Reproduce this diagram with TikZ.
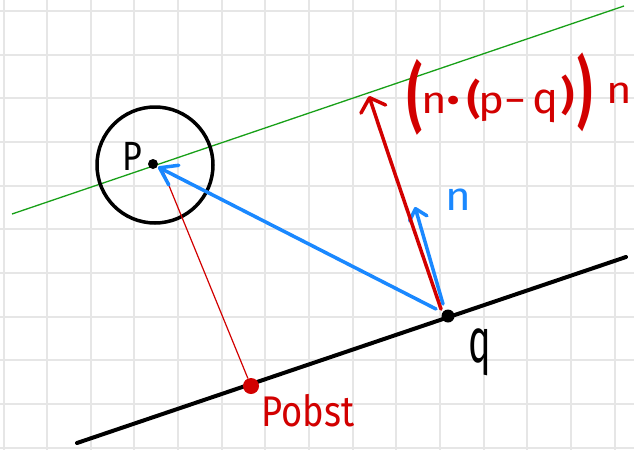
\documentclass[tikz,border=0pt]{standalone}
\usepackage{fontspec}
\setmainfont{Fira Sans}
\usetikzlibrary{arrows.meta}
\definecolor{inkred}{RGB}{210,0,0}
\definecolor{inkblue}{RGB}{26,136,255}
\definecolor{inkgreen}{RGB}{24,160,24}
\definecolor{gridgray}{RGB}{230,230,230}
\tikzset{
  gridline/.style={gridgray, line width=2pt},
  dot/.style={circle, fill=black, inner sep=0pt},
  reddot/.style={circle, fill=inkred, inner sep=0pt},
  barb/.style 2 args={-{Straight Barb[length=#1, width=#2, round]}},
  thickink/.style={line width=3.5pt, line cap=round, line join=round},
  hand/.style={inner sep=0pt},
  fglyph/.style={inner sep=0pt, text=inkred, anchor=base},
  fparen/.style={inner sep=0pt, text=inkred, anchor=south, font=\bfseries}
}
\newcommand{\fsz}[1]{\fontsize{#1}{#1}\selectfont}
\newcommand{\fch}[1]{\scalebox{1.15}[1]{\fsz{38}#1}}
\begin{document}
\begin{tikzpicture}[x=1pt, y=-1pt]
\useasboundingbox (0,0) rectangle (634,450);
\fill[white] (0,0) rectangle (634,450);
\foreach \k in {0,...,14} \draw[gridline] ({3.5+43.65*\k},0) -- ({3.5+43.65*\k},450);
\foreach \k in {0,...,10} \draw[gridline] (0,{11+43.65*\k}) -- (634,{11+43.65*\k});

\coordinate (gL) at (12,214);
\coordinate (gR) at (624,6);
\coordinate (bL) at (77,443);
\coordinate (bR) at (626,257);
\coordinate (qa) at (436,309);
\coordinate (qr) at (441,309);
\coordinate (qn) at (443,304);
\coordinate (Rtip) at (369,96);
\coordinate (ntip) at (415,207);
\coordinate (Ptip) at (158,167);
\coordinate (Pr) at (163,171);

\draw[inkgreen, line width=1.3pt] (gL) -- (gR);
\draw[black, line width=4pt, line cap=round] (bL) -- (bR);
\node[circle, draw=black, line width=3.5pt, minimum size=116pt, inner sep=0pt] (C) at (155,165) {};
\node[dot, minimum size=10pt] (P) at (153,164) {};
\node[dot, minimum size=13pt] (q) at (448,316) {};
\node[reddot, minimum size=16pt] (Pobst) at (251,386) {};
\draw[inkred, line width=1.2pt] (Pr) -- (Pobst);

\draw[inkblue, thickink, barb={16pt}{22pt}] (qa) -- (Ptip);
\draw[inkblue, thickink, barb={10pt}{18pt}] (qn) -- (ntip);
\draw[inkred, thickink, barb={12pt}{26pt}] (qr) .. controls (425,262) and (390,160) .. (Rtip);

\node[hand, text=black] (Plbl) at (132,156) {\scalebox{1}[1.2]{\fsz{34}P}};
\node[hand, text=inkblue] (nlbl) at (458,200) {\scalebox{1.1}[1]{\fsz{40}n}};
\node[hand, text=black] (qlbl) at (480,352) {\scalebox{1}[1.65]{\fsz{38}q}};
\node[hand, text=inkred] (Pobstlbl) at (308,411) {\scalebox{1.1}[1.3]{\fsz{33}Pobst}};

% formula (n•(p−q)) n
\node[fparen] (fo1) at (415,136) {\resizebox*{15pt}{76pt}{(}};
\node[fglyph] (fn1) at (434,113) {\fch{n}};
\node[fglyph] (fdot) at (454,113) {\fch{•}};
\node[fparen] (fi1) at (473.5,120) {\resizebox*{13pt}{41pt}{(}};
\node[fglyph] (fp) at (491,113) {\fch{p}};
\node[fglyph] (fmin) at (515,113) {\fch{−}};
\node[fglyph] (fq) at (546,113) {\scalebox{1.15}[1.15]{\fsz{38}q}};
\node[fparen] (fi2) at (567.5,116) {\resizebox*{13pt}{41pt}{)}};
\node[fparen] (fo2) at (585,132) {\resizebox*{15pt}{79pt}{)}};
\node[fglyph] (fn2) at (619.5,103) {\fch{n}};
\end{tikzpicture}
\end{document}
